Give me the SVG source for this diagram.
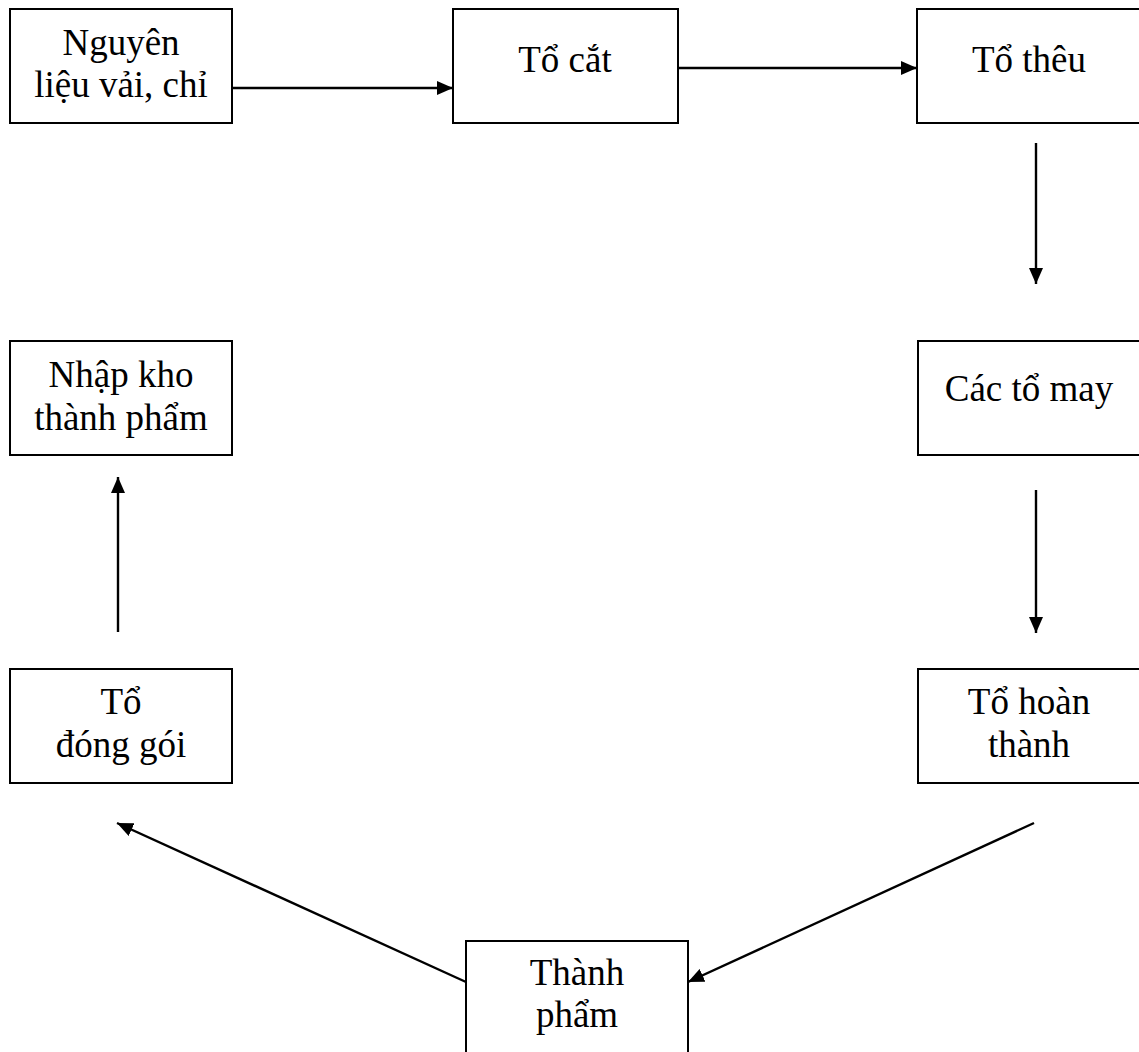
<svg xmlns="http://www.w3.org/2000/svg" width="1139" height="1052" viewBox="0 0 1139 1052">
  <style>
    .box { fill: #ffffff; stroke: #000000; stroke-width: 2; }
    .lbl { font-family: "Liberation Serif", "Times New Roman", serif; font-size: 37px; fill: #000000; text-anchor: middle; }
    .edge { stroke: #000000; stroke-width: 2.4; fill: none; marker-end: url(#arrow); }
  </style>
  <defs>
    <marker id="arrow" markerUnits="userSpaceOnUse" markerWidth="17" markerHeight="14" refX="16" refY="7" orient="auto">
      <path d="M0,0 L16,7 L0,14 Z" fill="#000000"/>
    </marker>
  </defs>
  <rect width="1139" height="1052" fill="#ffffff"/>

  <g id="nguyen-lieu">
    <rect class="box" x="10" y="9" width="222" height="114"/>
    <text class="lbl" x="121" y="55">Nguyên</text>
    <text class="lbl" x="121" y="97">liệu vải, chỉ</text>
  </g>
  <g id="to-cat">
    <rect class="box" x="453" y="9" width="225" height="114"/>
    <text class="lbl" x="565" y="72">Tổ cắt</text>
  </g>
  <g id="to-theu">
    <rect class="box" x="917" y="9" width="224" height="114"/>
    <text class="lbl" x="1029" y="72">Tổ thêu</text>
  </g>
  <g id="cac-to-may">
    <rect class="box" x="918" y="341" width="223" height="114"/>
    <text class="lbl" x="1029" y="401">Các tổ may</text>
  </g>
  <g id="to-hoan-thanh">
    <rect class="box" x="918" y="669" width="223" height="114"/>
    <text class="lbl" x="1029" y="714">Tổ hoàn</text>
    <text class="lbl" x="1029" y="757">thành</text>
  </g>
  <g id="thanh-pham">
    <rect class="box" x="466" y="941" width="222" height="120"/>
    <text class="lbl" x="577" y="985">Thành</text>
    <text class="lbl" x="577" y="1027">phẩm</text>
  </g>
  <g id="to-dong-goi">
    <rect class="box" x="10" y="669" width="222" height="114"/>
    <text class="lbl" x="121" y="714">Tổ</text>
    <text class="lbl" x="121" y="757">đóng gói</text>
  </g>
  <g id="nhap-kho">
    <rect class="box" x="10" y="341" width="222" height="114"/>
    <text class="lbl" x="121" y="387">Nhập kho</text>
    <text class="lbl" x="121" y="430">thành phẩm</text>
  </g>

  <g id="connectors">
    <line class="edge" x1="232" y1="88" x2="453" y2="88"/>
    <line class="edge" x1="678" y1="68" x2="917" y2="68"/>
    <line class="edge" x1="1036" y1="143" x2="1036" y2="284"/>
    <line class="edge" x1="1036" y1="490" x2="1036" y2="633"/>
    <line class="edge" x1="1034" y1="823" x2="688" y2="982"/>
    <line class="edge" x1="466" y1="982" x2="117" y2="823"/>
    <line class="edge" x1="118" y1="632" x2="118" y2="477"/>
  </g>
</svg>
